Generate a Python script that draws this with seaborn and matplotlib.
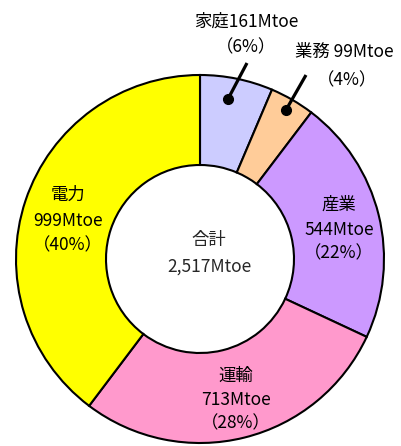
import matplotlib
matplotlib.use("Agg")
import matplotlib.pyplot as plt
import seaborn as sns

# Final energy consumption by sector (Mtoe)
sectors = ["家庭", "業務", "産業", "運輸", "電力"]
values = [161, 99, 544, 713, 999]
shares = [6, 4, 22, 28, 40]
total_label = "2,517Mtoe"
colors = ["#CCCCFF", "#FFCC99", "#CC99FF", "#FF99CC", "#FFFF00"]

sns.set_theme(style="white")
plt.rcParams["font.family"] = ["Noto Sans CJK JP", "DejaVu Sans"]

W, H = 401, 446
fig = plt.figure(figsize=(W / 100, H / 100), dpi=100)
ax = fig.add_axes([0, 0, 1, 1])

# pixel geometry of the donut
CX, CY, R = 200, 259, 184


def px(x, y):
    return ((x - CX) / R, (CY - y) / R)


palette = sns.color_palette(colors)
ax.pie(values, colors=palette, startangle=90, counterclock=False, radius=1.0,
       wedgeprops=dict(width=1 - 94 / 184, edgecolor="black", linewidth=1.5))

ax.set_xlim(-CX / R, (W - CX) / R)
ax.set_ylim(-(H - CY) / R, CY / R)
ax.set_aspect("equal")
ax.axis("off")

fs = 12.5


def label(lines, pos):
    for text, (x, y) in zip(lines, pos):
        ax.text(*px(x, y), text, ha="center", va="center", fontsize=fs, color="black")


def info(i):
    return [sectors[i], f"{values[i]}Mtoe", f"（{shares[i]}%）"]


# inside labels
i = sectors.index("電力")
label(info(i), [(68, 195), (68, 221), (68, 245)])
i = sectors.index("産業")
label(info(i), [(339, 205), (339, 230), (339, 253)])
i = sectors.index("運輸")
label(info(i), [(236, 376), (236, 400), (236, 423)])

# outside labels with leader lines
i = sectors.index("家庭")
label([f"{sectors[i]}{values[i]}Mtoe", f"（{shares[i]}%）"], [(246, 22), (246, 47)])
i = sectors.index("業務")
label([f"{sectors[i]} {values[i]}Mtoe", f"（{shares[i]}%）"], [(344, 52), (347, 80)])

for (x0, y0), (x1, y1) in [((247, 63), (228, 99)), ((306, 75), (286, 110))]:
    a, b = px(x0, y0), px(x1, y1)
    ax.plot([a[0], b[0]], [a[1], b[1]], color="black", lw=2.3, solid_capstyle="butt")
    ax.plot(*b, marker="o", ms=7, color="black")

# center total
ax.text(*px(209, 240), "合計", ha="center", va="center", fontsize=fs)
ax.text(*px(209, 267), total_label, ha="center", va="center", fontsize=fs)

fig.savefig("out.png", dpi=100)
